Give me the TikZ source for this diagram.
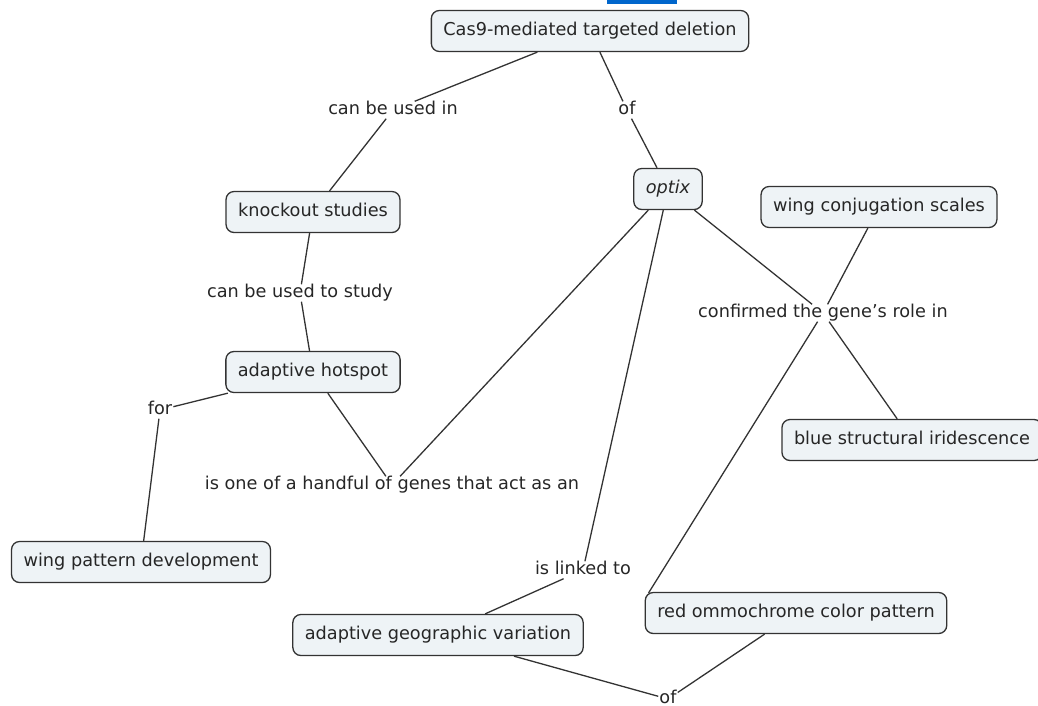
\documentclass[tikz,border=0pt]{standalone}
\usepackage{fontspec}
\setmainfont{DejaVu Sans}
\begin{document}
\begin{tikzpicture}[x=1pt,y={(0pt,-1pt)},
  concept/.style={draw=black!80,line width=1.3pt,fill=boxfill,rounded corners=8pt,
    inner xsep=12pt,minimum height=41pt,text height=13pt,text depth=4pt,
    font=\fontsize{17.7}{20}\selectfont,text=black!85},
  lab/.style={inner sep=1pt,font=\fontsize{17.7}{20}\selectfont,text=black!85,text height=12pt,text depth=3pt},
  conn/.style={draw=black!80,line width=1.3pt}]
\definecolor{boxfill}{HTML}{EEF3F6}
\useasboundingbox (0,0) rectangle (1038,705);
\fill[fill={rgb,255:red,0;green,102;blue,204}] (607,0) rectangle (677,4);
% concepts
\node[concept] (cas) at (590,31) {Cas9-mediated targeted deletion};
\node[concept] (optix) at (668,189) {\itshape optix};
\node[concept] (ko) at (313,212) {knockout studies};
\node[concept] (wcs) at (879,207) {wing conjugation scales};
\node[concept] (ah) at (313,372) {adaptive hotspot};
\node[concept] (bsi) at (912,440) {blue structural iridescence};
\node[concept] (wpd) at (141,562) {wing pattern development};
\node[concept] (agv) at (438,635) {adaptive geographic variation};
\node[concept] (roc) at (796,613) {red ommochrome color pattern};
% labels
\node[lab] (l1) at (393,110) {can be used in};
\node[lab] (l2) at (627,110) {of};
\node[lab] (l3) at (300,293) {can be used to study};
\node[lab] (l4) at (823,313) {confirmed the gene's role in};
\node[lab] (l5) at (160,410) {for};
\node[lab] (l6) at (392,485) {is one of a handful of genes that act as an};
\node[lab] (l7) at (583,570) {is linked to};
\node[lab] (l8) at (668,699) {of};
\coordinate (rocA) at ([shift={(4,1)}]roc.north west);
% connectors
\draw[conn] (cas) -- (l1); \draw[conn] (l1) -- (ko);
\draw[conn] (cas) -- (l2); \draw[conn] (l2) -- (optix);
\draw[conn] (ko) -- (l3); \draw[conn] (l3) -- (ah);
\draw[conn] (ah) -- (l5); \draw[conn] (l5) -- (wpd);
\draw[conn] (ah) -- (l6); \draw[conn] (optix) -- (l6);
\draw[conn] (optix) -- (l4); \draw[conn] (wcs) -- (l4);
\draw[conn] (l4) -- (bsi); \draw[conn] (l4) -- (rocA);
\draw[conn] (optix) -- (l7); \draw[conn] (l7) -- (agv);
\draw[conn] (agv) -- (l8); \draw[conn] (roc) -- (l8);
\end{tikzpicture}
\end{document}
